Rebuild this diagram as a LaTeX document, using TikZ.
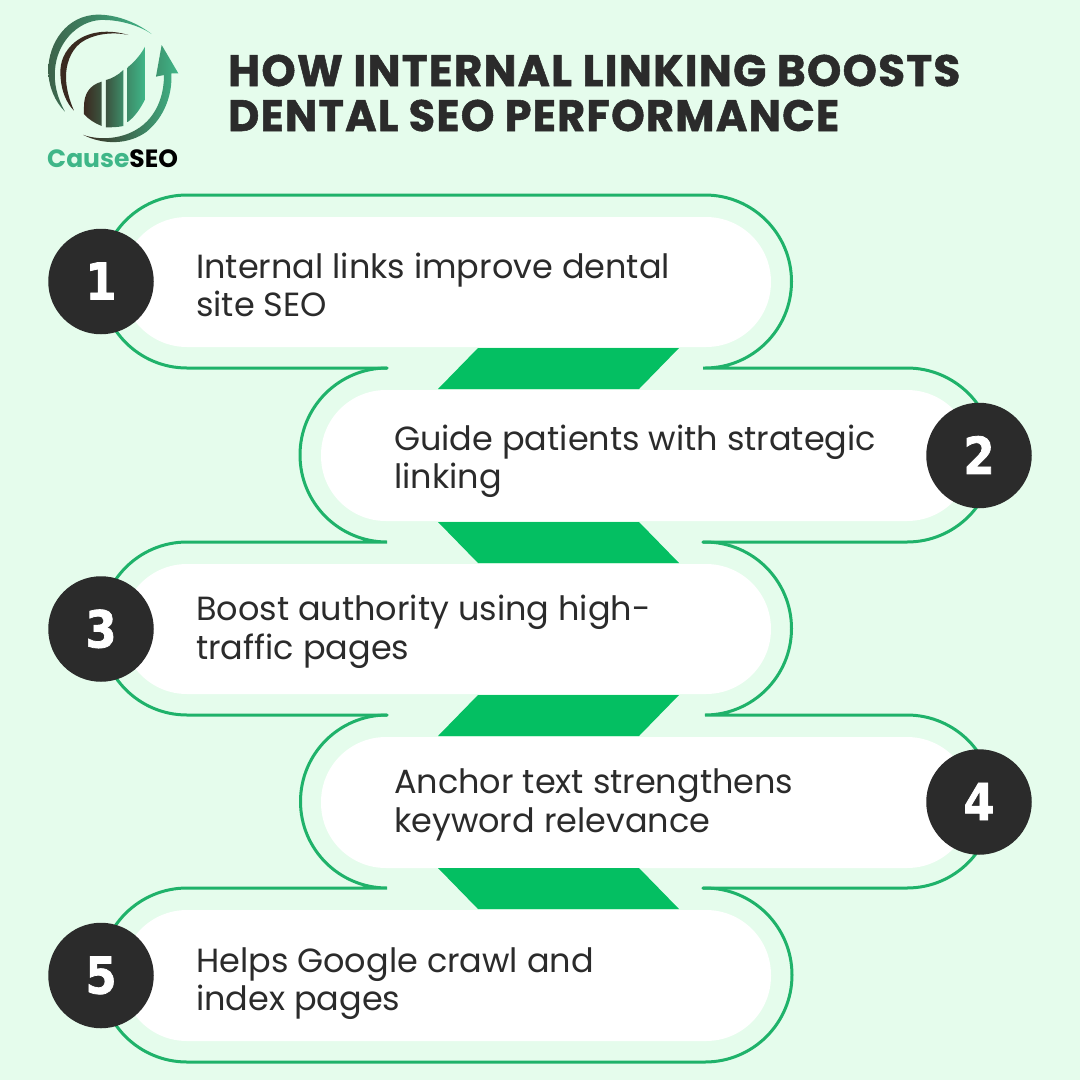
\documentclass[tikz,border=0pt]{standalone}
\usepackage{fontspec}
\setmainfont{Poppins}
\newfontfamily\bodyf{Poppins}
\newfontfamily\titlef{Poppins}[LetterSpace=3,BoldFeatures={FakeBold=1.2}]
\newfontfamily\numf{DejaVu Sans}[BoldFeatures={FakeBold=1.5}]
\newcommand{\digitbox}[1]{\raisebox{1pt}{\scalebox{0.88}[1]{#1}}}
\definecolor{bgc}{HTML}{E5FCEC}
\definecolor{linec}{HTML}{1FB26A}
\definecolor{barc}{HTML}{04BF62}
\definecolor{darkc}{HTML}{2B2B2B}
\definecolor{logog}{HTML}{3FB688}
\definecolor{logod}{HTML}{3A2A20}
\tikzset{
  outline/.style={draw=linec,line width=3pt,line cap=round},
  pill/.style={fill=white,draw=none},
  wedge/.style={fill=barc,draw=none},
  badge/.style={circle,fill=darkc,minimum size=105.5pt,inner sep=0pt,text=white,font=\numf\bfseries\fontsize{51}{51}\selectfont},
  body/.style={anchor=base west,inner sep=0pt,text=darkc,font=\bodyf\fontsize{33.5}{38}\selectfont},
  headline/.style={anchor=base west,inner sep=0pt,text=darkc,font=\titlef\bfseries\fontsize{44}{44}\selectfont},
}
\begin{document}
\begin{tikzpicture}[x=1pt,y=-1pt]
\useasboundingbox (0,0) rectangle (1080,1080);
\fill[bgc] (0,0) rectangle (1080,1080);
% white pills
\fill[pill,rounded corners=65pt] (122,217) rectangle (771,347);
\fill[pill,rounded corners=65pt] (321,390) rectangle (972,521);
\fill[pill,rounded corners=65pt] (122,564) rectangle (771,694);
\fill[pill,rounded corners=65pt] (321,737) rectangle (972,868);
\fill[pill,rounded corners=65pt] (122,910) rectangle (771,1041);
% wedges
\fill[wedge] (478,348) -- (679,348) -- (639,389) -- (438,389) -- cycle;
\fill[wedge] (438,522) -- (639,522) -- (679,563) -- (478,563) -- cycle;
\fill[wedge] (478,695) -- (679,695) -- (639,736) -- (438,736) -- cycle;
\fill[wedge] (438,868) -- (639,868) -- (679,909) -- (478,909) -- cycle;
% outlines
\draw[outline] (387,368) -- (187,368) arc[start angle=270,end angle=90,radius=86.5pt] -- (705,195) arc[start angle=90,end angle=-90,radius=86.5pt] -- (703,368) -- (907,368) arc[start angle=90,end angle=-90,radius=87pt] -- (703,542);
\draw[outline] (387,368) arc[start angle=90,end angle=270,radius=87pt] -- (187,542) arc[start angle=90,end angle=270,radius=86.5pt] -- (387,715);
\draw[outline] (703,542) -- (705,542) arc[start angle=90,end angle=-90,radius=86.5pt] -- (907,715) arc[start angle=90,end angle=-90,radius=86.5pt] -- (703,888);
\draw[outline] (387,715) arc[start angle=90,end angle=270,radius=86.5pt] -- (187,888) arc[start angle=90,end angle=270,radius=87pt] -- (705,1062) arc[start angle=-90,end angle=90,radius=87pt] -- (703,888);
% badges
\node[badge] (n1) at (101,281.5) {\digitbox{1}};
\node[badge] (n2) at (979,455.5) {\digitbox{2}};
\node[badge] (n3) at (101,629) {\digitbox{3}};
\node[badge] (n4) at (979,802) {\digitbox{4}};
\node[badge] (n5) at (101,975.5) {\digitbox{5}};
% body text
\node[body] (t1a) at (196,278) {Internal links improve dental};
\node[body] (t1b) at (196,316) {site SEO};
\node[body] (t2a) at (394,450) {Guide patients with strategic};
\node[body] (t2b) at (394,488) {linking};
\node[body] (t3a) at (196,620) {Boost authority using high-};
\node[body] (t3b) at (196,659) {traffic pages};
\node[body] (t4a) at (394,793) {Anchor text strengthens};
\node[body] (t4b) at (394,832) {keyword relevance};
\node[body] (t5a) at (196,972) {Helps Google crawl and};
\node[body] (t5b) at (196,1010) {index pages};
% title
\node[headline] (h1) at (228,86) {\scalebox{0.992}[1]{HOW INTERNAL LINKING BOOSTS}};
\node[headline] (h2) at (228,131) {\scalebox{0.973}[1]{DENTAL SEO PERFORMANCE}};
% logo
\begin{scope}[shift={(30,10)},x=0.3333pt,y=-0.3333pt]
\shade[left color=logod!60!logog,right color=logog] (365,72) .. controls (310,30) and (250,14) .. (205,14) .. controls (110,14) and (55,100) .. (55,180) .. controls (55,230) and (75,275) .. (105,305) .. controls (80,260) and (72,220) .. (75,180) .. controls (80,100) and (140,35) .. (210,30) .. controls (265,28) and (325,45) .. (365,72) -- cycle;
\fill[logod] (295,75) .. controls (240,58) and (170,60) .. (125,105) .. controls (95,135) and (88,170) .. (92,205) .. controls (95,245) and (110,280) .. (132,302) .. controls (118,270) and (108,235) .. (108,200) .. controls (108,165) and (120,125) .. (150,100) .. controls (190,70) and (250,65) .. (295,75) -- cycle;
\shade[left color=logod,right color=logog!30!logod] (162,312) -- (162,290) .. controls (162,250) and (180,225) .. (215,215) -- (215,348) .. controls (195,340) and (175,328) .. (162,312) -- cycle;
\shade[left color=logog!30!logod,right color=logog!70!logod] (228,352) -- (228,210) .. controls (245,206) and (265,195) .. (280,180) -- (280,348) .. controls (262,352) and (245,352) .. (228,352) -- cycle;
\shade[left color=logog!70!logod,right color=logog] (293,336) -- (293,172) .. controls (315,155) and (335,130) .. (345,110) -- (345,268) .. controls (332,295) and (315,320) .. (293,336) -- cycle;
\shade[left color=logod,right color=logog] (160,375) .. controls (220,395) and (300,385) .. (350,335) .. controls (385,300) and (402,250) .. (402,195) -- (378,200) -- (395,105) -- (445,190) -- (424,190) .. controls (428,250) and (405,320) .. (350,365) .. controls (295,405) and (220,405) .. (160,375) -- cycle;
\end{scope}
\node[anchor=base west,inner sep=0pt,font=\bodyf\fontsize{25}{25}\selectfont] (brand) at (47,167) {\textcolor{logog}{\bfseries Cause}\textcolor{black}{\bfseries SEO}};
\end{tikzpicture}
\end{document}
